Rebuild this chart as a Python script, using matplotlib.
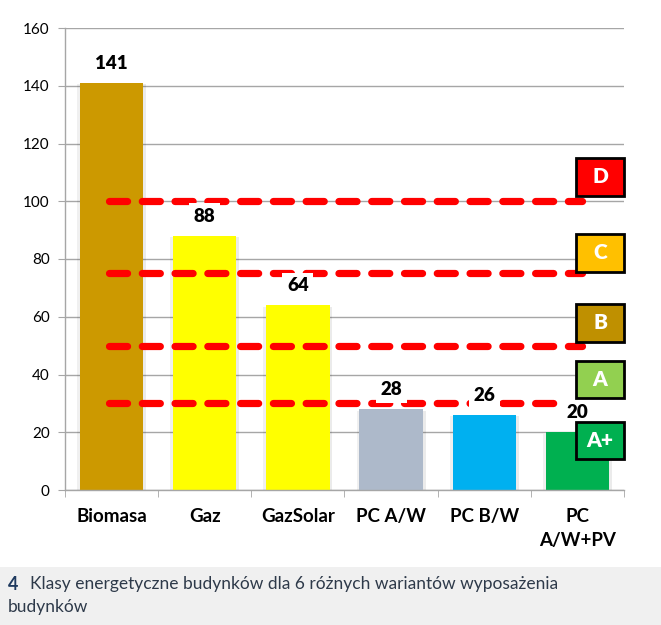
import matplotlib
matplotlib.use("Agg")
import matplotlib.pyplot as plt
from matplotlib.patches import Rectangle
import matplotlib.patheffects as pe

plt.rcParams['font.family'] = ['Lato', 'DejaVu Sans']
plt.rcParams['lines.scale_dashes'] = False

categories = ["Biomasa", "Gaz", "GazSolar", "PC A/W", "PC B/W", "PC\nA/W+PV"]
values = [141, 88, 64, 28, 26, 20]
bar_colors = ["#CC9900", "#FFFF00", "#FFFF00", "#ADB9CA", "#00B0F0", "#00B050"]

class_labels = ["D", "C", "B", "A", "A+"]
class_limits = [100, 75, 50, 30]
class_colors = ["#FF0000", "#FFC000", "#BF9000", "#92D050", "#00B050"]
class_box_ranges = [(101.8, 115.0), (75.5, 88.7), (51.3, 64.4), (31.9, 44.7), (10.7, 23.5)]

yticks = [0, 20, 40, 60, 80, 100, 120, 140, 160]
caption_num = "4"
caption_text = "Klasy energetyczne budynków dla 6 różnych wariantów wyposażenia\nbudynków"

W, H = 661, 625
fig = plt.figure(figsize=(W / 100, H / 100), dpi=100)
fig.patch.set_facecolor("white")
ax = fig.add_axes([65 / W, 1 - 490 / H, (624 - 65) / W, (490 - 28) / H])

x = list(range(len(categories)))
bars = ax.bar(x, values, width=0.68, color=bar_colors, zorder=2)
for b in bars:
    b.set_path_effects([
        pe.SimplePatchShadow(offset=(2, -1), shadow_rgbFace="#000000", alpha=0.08),
        pe.SimplePatchShadow(offset=(-2, -1), shadow_rgbFace="#000000", alpha=0.06),
        pe.Normal()])

ax.set_xlim(-0.5, 5.5)
ax.set_ylim(0, 160)
ax.set_yticks(yticks)
ax.yaxis.grid(True, color="#A6A6A6", linewidth=1.0, zorder=0)
ax.set_axisbelow(True)

for s in ["top", "right"]:
    ax.spines[s].set_visible(False)
for s in ["left", "bottom"]:
    ax.spines[s].set_color("#A6A6A6")
    ax.spines[s].set_linewidth(1.0)

ax.tick_params(axis="y", length=5, color="#A6A6A6", labelsize=11, labelcolor="#000000", pad=6)
ax.set_xticks(x)
ax.set_xticklabels(categories, fontsize=13.5, fontweight="bold", linespacing=1.5)
ax.tick_params(axis="x", length=0, pad=13)
ax.set_xticks([i - 0.5 for i in range(len(categories) + 1)], minor=True)
ax.tick_params(axis="x", which="minor", length=5, color="#A6A6A6")

# class limit dashed lines
line_ends = [5.05, 5.05, 5.05, 4.78]
for lim, xe in zip(class_limits, line_ends):
    ax.plot([-0.03, xe], [lim, lim], color="#FF0000", linewidth=5.2,
            linestyle=(0, (13.0, 10.6)), dash_capstyle="round",
            solid_capstyle="round", zorder=3)

# value labels
for xi, v in zip(x, values):
    ax.annotate(str(v), (xi, v), xytext=(0, 14), textcoords="offset points",
                ha="center", va="center", fontsize=13.5, fontweight="heavy",
                color="#000000", zorder=4,
                bbox=dict(boxstyle="square,pad=0.25", fc="white", ec="none"))

# class boxes
for lab, col, (y0, y1) in zip(class_labels, class_colors, class_box_ranges):
    r = Rectangle((4.985, y0), 0.515, y1 - y0, facecolor=col, edgecolor="black",
                  linewidth=2.0, zorder=5, clip_on=False)
    ax.add_patch(r)
    ax.text(4.985 + 0.515 / 2, (y0 + y1) / 2, lab, ha="center", va="center",
            fontsize=15, fontweight="heavy", color="white", zorder=6)

# caption band
fig.patches.append(Rectangle((0, 0), 1, (H - 567) / H, transform=fig.transFigure,
                             facecolor="#F0F0F0", edgecolor="none", zorder=0))
fig.text(8 / W, 1 - 584 / H, caption_num, fontsize=13, fontweight="bold",
         color="#1F3A5F", va="center", ha="left")
fig.text(30 / W, 1 - 584 / H, caption_text.split("\n")[0], fontsize=12.5,
         color="#2E3A4A", va="center", ha="left")
fig.text(8 / W, 1 - 607 / H, caption_text.split("\n")[1], fontsize=12.5,
         color="#2E3A4A", va="center", ha="left")

fig.savefig("out.png", dpi=100)
